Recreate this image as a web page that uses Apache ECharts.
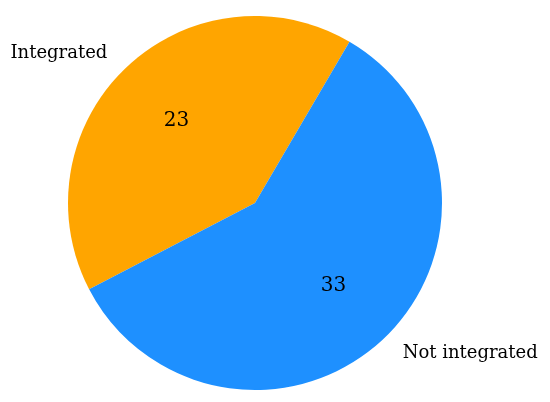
<!DOCTYPE html>
<html>
<head>
<meta charset="utf-8">
<script src="https://cdn.jsdelivr.net/npm/echarts@6/dist/echarts.min.js"></script>
<style>
  html, body { margin: 0; padding: 0; background: #fff; }
  #chart { width: 550px; height: 402px; }
</style>
</head>
<body>
<div id="chart"></div>
<script>
const categories = ['Integrated', 'Not integrated'];
const counts = [23, 33];
const colors = ['#FFA500', '#1E90FF'];

const font = 'DejaVu Serif';
const chart = echarts.init(document.getElementById('chart'));

const data = categories.map((name, i) => ({
    name: name,
    value: counts[i],
    itemStyle: { color: colors[i] }
}));

const option = {
    animation: false,
    series: [{
        // visible pie with outside name labels
        type: 'pie',
        center: [255, 203],
        radius: [0, 187],
        startAngle: 207.5,
        clockwise: true,
        silent: true,
        data: data,
        label: {
            show: true,
            position: 'outside',
            formatter: '{b}',
            color: '#000',
            fontFamily: font,
            fontSize: 18
        },
        labelLine: { show: false, length: 20, length2: 0 }
    }, {
        // transparent pie used only to place the value labels
        type: 'pie',
        center: [255, 203],
        radius: [0, 222],
        startAngle: 207.5,
        clockwise: true,
        silent: true,
        data: categories.map((name, i) => ({ name: name, value: counts[i] })),
        itemStyle: { color: 'transparent' },
        label: {
            show: true,
            position: 'inside',
            formatter: '{c}',
            color: '#000',
            fontFamily: font,
            fontSize: 20
        },
        labelLine: { show: false }
    }]
};
chart.setOption(option);
</script>
</body>
</html>
